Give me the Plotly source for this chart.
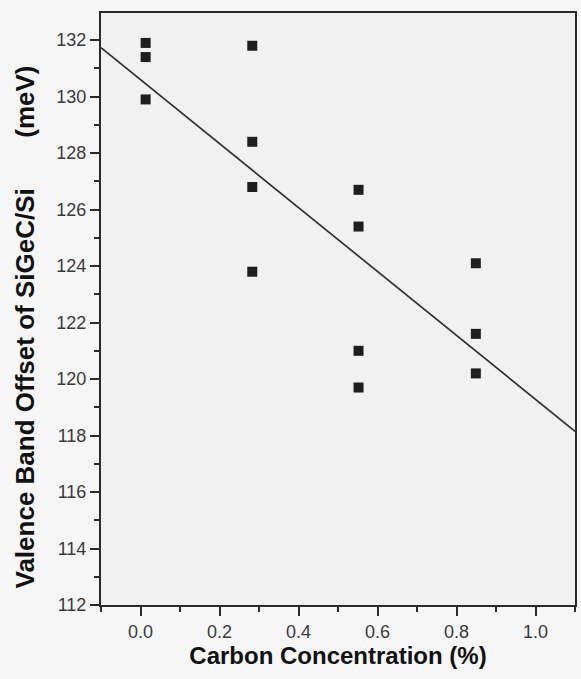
import plotly.graph_objects as go

# Data
carbon = [0.013, 0.013, 0.013, 0.283, 0.283, 0.283, 0.283,
          0.552, 0.552, 0.552, 0.552, 0.849, 0.849, 0.849]
offset = [131.9, 131.4, 129.9, 131.8, 128.4, 126.8, 123.8,
          126.7, 125.4, 121.0, 119.7, 124.1, 121.6, 120.2]
fit_x = [-0.1, 1.1]
fit_y = [131.73, 118.15]

x_ticks = [0.0, 0.2, 0.4, 0.6, 0.8, 1.0]
y_ticks = [112, 114, 116, 118, 120, 122, 124, 126, 128, 130, 132]

fig = go.Figure()
fig.add_trace(go.Scatter(x=fit_x, y=fit_y, mode="lines",
                         line=dict(color="#333333", width=1.7),
                         showlegend=False, hoverinfo="skip"))
fig.add_trace(go.Scatter(x=carbon, y=offset, mode="markers",
                         marker=dict(symbol="square", size=10, color="#1e1e1e"),
                         showlegend=False))

font_ticks = dict(family="Liberation Sans, Arial, sans-serif", size=18, color="#3a3a3a")
fig.update_layout(
    width=581, height=679,
    margin=dict(l=101, r=4, t=13, b=74),
    paper_bgcolor="#f6f6f6",
    plot_bgcolor="#f1f1f1",
    xaxis=dict(range=[-0.1, 1.1], tickvals=x_ticks,
               ticktext=[f"{v:.1f}" for v in x_ticks],
               ticks="outside", ticklen=9, tickwidth=2, tickcolor="#2a2a2a",
               minor=dict(dtick=0.1, ticks="outside", ticklen=5, tickwidth=1.5, tickcolor="#2a2a2a"),
               showline=True, linecolor="#2a2a2a", linewidth=2, mirror=True,
               showgrid=False, zeroline=False, tickfont=font_ticks,
               title=dict(text="<b>Carbon Concentration (%)</b>",
                          font=dict(family="Liberation Sans, Arial, sans-serif", size=24, color="#111"),
                          standoff=7)),
    yaxis=dict(range=[112, 132.96], tickvals=y_ticks,
               ticks="outside", ticklen=9, tickwidth=2, tickcolor="#2a2a2a",
               minor=dict(dtick=1, ticks="outside", ticklen=5, tickwidth=1.5, tickcolor="#2a2a2a"),
               showline=True, linecolor="#2a2a2a", linewidth=2, mirror=True,
               showgrid=False, zeroline=False, tickfont=font_ticks),
    annotations=[dict(text="<b>Valence Band Offset of SiGeC/Si" + "\u00a0" * 7 + "(meV)</b>",
                      xref="paper", yref="paper", x=-0.16, y=0.469,
                      xanchor="center", yanchor="middle", textangle=-90,
                      showarrow=False,
                      font=dict(family="Liberation Sans, Arial, sans-serif", size=26, color="#111"))],
)

fig.write_html("out.html")
